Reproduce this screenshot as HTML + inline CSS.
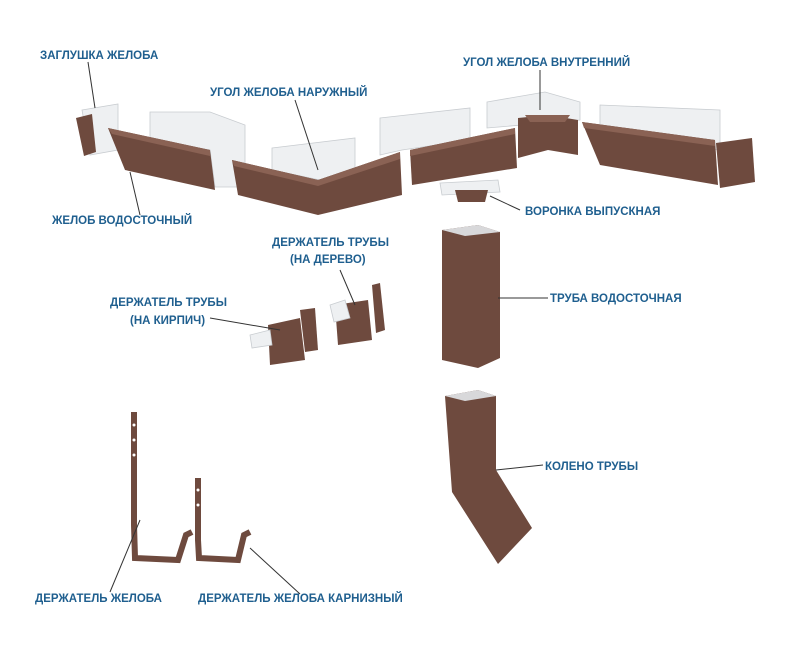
<!DOCTYPE html>
<html><head><meta charset="utf-8"><style>
html,body{margin:0;padding:0;background:#fff}
svg{display:block}
text{font-family:"Liberation Sans",sans-serif;font-weight:bold;font-size:11.5px;fill:#1f5f8f}
.l{stroke:#333;stroke-width:1;fill:none}
.b{fill:#6e4a3e}
.bd{fill:#8a6254}
.bl{fill:#d8d8da}
.w{fill:#eef0f2;stroke:#c8ccd0;stroke-width:0.8}
</style></head><body>
<svg width="800" height="650" viewBox="0 0 800 650">
<rect width="800" height="650" fill="#fff"/>
<!-- gutter backs -->
<polygon class="w" points="150,112 210,112 245,125 245,187 215,187 210,150 150,140"/>
<polygon class="w" points="272,148 355,138 355,168 320,180 272,170"/>
<polygon class="w" points="380,118 470,108 470,140 402,150 380,155"/>
<polygon class="w" points="487,102 545,92 580,102 580,120 487,128"/>
<polygon class="w" points="600,105 720,110 720,150 600,140"/>
<!-- end cap left -->
<polygon class="w" points="82,110 118,104 118,150 90,155"/>
<polygon class="b" points="76,118 92,114 96,152 84,156"/>
<!-- gutter 1 -->
<polygon class="b" points="108,128 210,150 215,190 125,170"/>
<polygon class="bd" points="108,128 210,150 210,156 112,134"/>
<!-- outer corner -->
<polygon class="b" points="232,160 318,180 400,152 402,195 318,215 238,195"/>
<polygon class="bd" points="232,160 318,180 400,152 400,159 318,186 234,166"/>
<!-- middle gutter -->
<polygon class="b" points="410,150 515,128 517,168 412,185"/>
<polygon class="bd" points="410,150 515,128 515,134 410,156"/>
<!-- inner corner -->
<polygon class="b" points="518,118 548,115 578,120 578,155 548,150 518,158"/>
<polygon class="bd" points="525,115 570,115 565,122 530,122"/>
<!-- right gutter -->
<polygon class="b" points="582,122 715,140 718,185 600,165"/>
<polygon class="bd" points="582,122 715,140 715,146 584,128"/>
<!-- end cap right -->
<polygon class="b" points="716,143 752,138 755,182 720,188"/>
<!-- funnel -->
<polygon class="w" points="440,183 498,180 500,192 442,195"/>
<polygon class="b" points="455,190 488,190 485,202 458,202"/>
<!-- pipe -->
<polygon class="b" points="442,230 478,225 500,232 500,358 478,368 442,360"/>
<polygon class="bl" points="442,230 478,225 500,232 465,236"/>
<!-- elbow -->
<path class="b" d="M445,396 L478,390 L496,396 L496,470 L532,528 L498,564 L452,492 Z"/>
<polygon class="bl" points="445,396 478,390 496,396 465,401"/>
<!-- pipe holders -->
<polygon class="b" points="268,325 300,318 305,360 270,365"/>
<polygon class="w" points="250,335 270,330 272,345 252,348"/>
<polygon class="b" points="335,305 368,300 372,340 338,345"/>
<polygon class="w" points="330,305 345,300 350,318 334,322"/>
<polygon class="b" points="300,310 315,308 318,350 305,352"/>
<polygon class="b" points="372,285 380,283 385,330 376,333"/>
<!-- gutter holders -->
<path d="M134,412 L134,525 L135,558 L178,560 L186,535 L192,532" stroke="#6e4a3e" stroke-width="6" fill="none"/>
<path d="M198,478 L198,540 L199,558 L238,560 L244,535 L250,532" stroke="#6e4a3e" stroke-width="6" fill="none"/>
<g fill="#fff"><circle cx="134" cy="425" r="1.5"/><circle cx="134" cy="440" r="1.5"/><circle cx="134" cy="455" r="1.5"/><circle cx="198" cy="490" r="1.5"/><circle cx="198" cy="505" r="1.5"/></g>
<!-- leaders -->
<path class="l" d="M88,62 L95,108"/>
<path class="l" d="M295,100 L318,170"/>
<path class="l" d="M540,70 L540,110"/>
<path class="l" d="M140,215 L130,172"/>
<path class="l" d="M520,210 L490,196"/>
<path class="l" d="M340,270 L355,305"/>
<path class="l" d="M210,318 L280,330"/>
<path class="l" d="M548,298 L498,298"/>
<path class="l" d="M543,465 L496,470"/>
<path class="l" d="M110,592 L140,520"/>
<path class="l" d="M300,594 L250,548"/>
<!-- labels -->
<text x="40" y="59">ЗАГЛУШКА ЖЕЛОБА</text>
<text x="210" y="96">УГОЛ ЖЕЛОБА НАРУЖНЫЙ</text>
<text x="463" y="66">УГОЛ ЖЕЛОБА ВНУТРЕННИЙ</text>
<text x="52" y="224">ЖЕЛОБ ВОДОСТОЧНЫЙ</text>
<text x="525" y="215">ВОРОНКА ВЫПУСКНАЯ</text>
<text x="272" y="246">ДЕРЖАТЕЛЬ ТРУБЫ</text>
<text x="290" y="263">(НА ДЕРЕВО)</text>
<text x="110" y="306">ДЕРЖАТЕЛЬ ТРУБЫ</text>
<text x="130" y="324">(НА КИРПИЧ)</text>
<text x="550" y="302">ТРУБА ВОДОСТОЧНАЯ</text>
<text x="545" y="470">КОЛЕНО ТРУБЫ</text>
<text x="35" y="602">ДЕРЖАТЕЛЬ ЖЕЛОБА</text>
<text x="198" y="602">ДЕРЖАТЕЛЬ ЖЕЛОБА КАРНИЗНЫЙ</text>
</svg>
</body></html>
